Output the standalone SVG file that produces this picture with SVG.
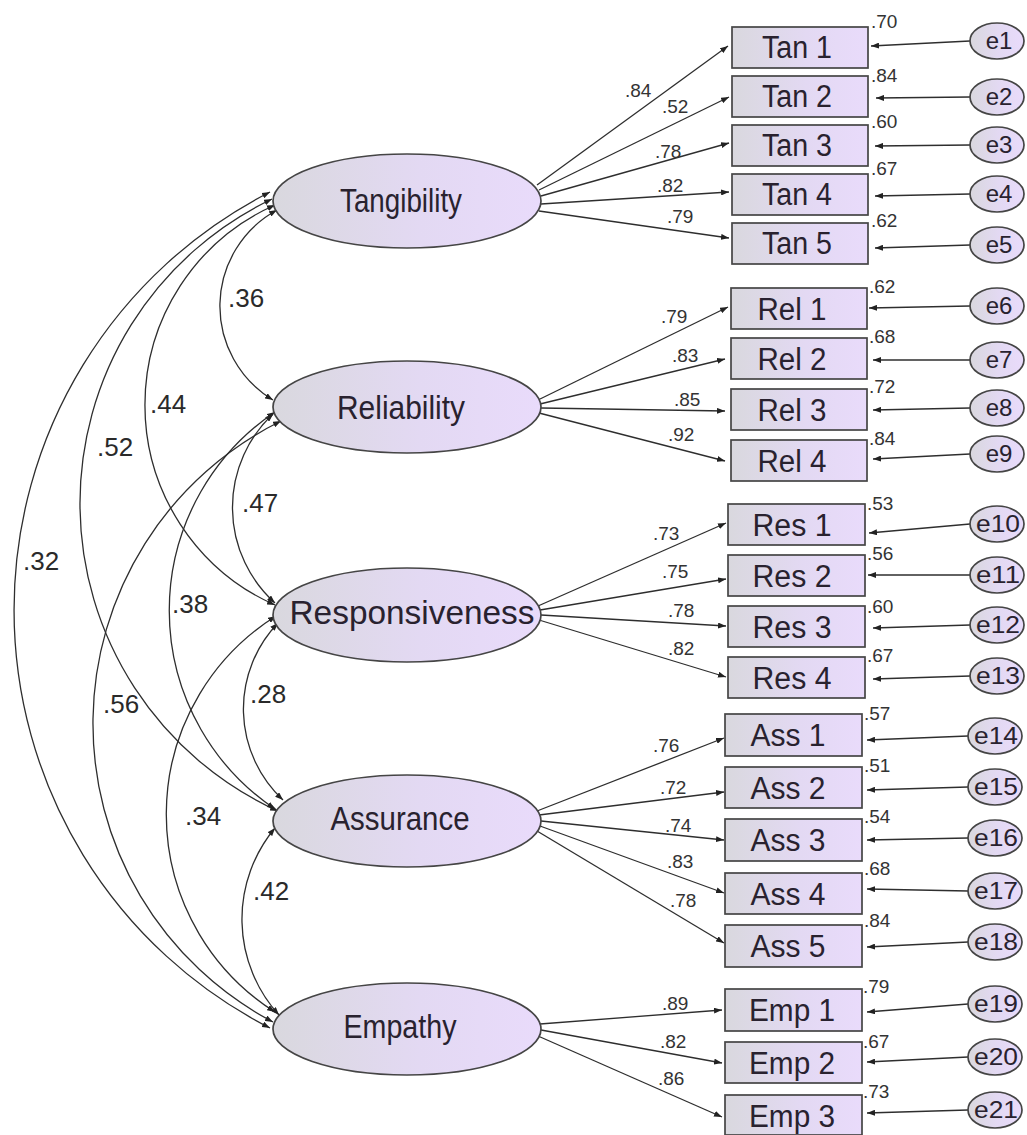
<svg xmlns="http://www.w3.org/2000/svg" width="1027" height="1135" viewBox="0 0 1027 1135">
  <defs>
    <linearGradient id="shade" x1="0" y1="0" x2="1" y2="0">
      <stop offset="0" stop-color="#d9d8de"/>
      <stop offset="0.55" stop-color="#e3d9f3"/>
      <stop offset="1" stop-color="#e9dbfb"/>
    </linearGradient>
    <marker id="head" viewBox="0 0 8 6" refX="8" refY="3" markerWidth="8" markerHeight="6" markerUnits="userSpaceOnUse" orient="auto-start-reverse">
      <path d="M0,0 L8,3 L0,6 z" fill="#222"/>
    </marker>
    <style>
      .shape { fill: url(#shade); stroke: #454545; stroke-width: 1.7; }
      .lbl { font-family: "Liberation Sans", Arial, sans-serif; fill: #29222f; }
      .latent { font-size: 33px; text-anchor: middle; }
      .item { font-size: 31px; text-anchor: middle; }
      .err { font-size: 24px; text-anchor: middle; }
      .num { font-size: 19px; fill: #333; }
      .cov { font-size: 26px; fill: #2a2a2a; }
      .link { fill: none; stroke: #2e2e2e; stroke-width: 1.3; marker-end: url(#head); }
      .arc { fill: none; stroke: #2e2e2e; stroke-width: 1.3; marker-start: url(#head); marker-end: url(#head); }
    </style>
  </defs>
  <rect width="1027" height="1135" fill="#ffffff"/>

  <!-- connectors: covariances, loadings, error paths -->
  <g id="connectors">
    <g id="covariances">
      <path class="arc" d="M277,210 A109.5,109.5 0 0 0 273,400"/>
      <path class="arc" d="M275,205 A218.8,218.8 0 0 0 275,605"/>
      <path class="arc" d="M272,199 A337.6,337.6 0 0 0 278,811"/>
      <path class="arc" d="M270,192 A469.3,469.3 0 0 0 270,1028"/>
      <path class="arc" d="M273,414 A128.3,128.3 0 0 0 275,603"/>
      <path class="arc" d="M275,412 A239.2,239.2 0 0 0 275,809"/>
      <path class="arc" d="M281,421 A337.4,337.4 0 0 0 273,1022"/>
      <path class="arc" d="M278,623 A124.3,124.3 0 0 0 283,800"/>
      <path class="arc" d="M276,616 A234.1,234.1 0 0 0 275,1012"/>
      <path class="arc" d="M275,828 A142.4,142.4 0 0 0 279,1015"/>
    </g>
    <g id="loadings">
      <line class="link" x1="537" y1="185" x2="728" y2="46"/>
      <line class="link" x1="539" y1="190" x2="729" y2="97"/>
      <line class="link" x1="541" y1="196" x2="729" y2="143"/>
      <line class="link" x1="541" y1="204" x2="729" y2="192"/>
      <line class="link" x1="539" y1="211" x2="729" y2="238"/>
      <line class="link" x1="538" y1="400" x2="728" y2="307"/>
      <line class="link" x1="540" y1="404" x2="725" y2="359"/>
      <line class="link" x1="541" y1="408" x2="725" y2="411"/>
      <line class="link" x1="539" y1="413" x2="725" y2="461"/>
      <line class="link" x1="538" y1="606" x2="726" y2="523"/>
      <line class="link" x1="540" y1="610" x2="726" y2="579"/>
      <line class="link" x1="541" y1="615" x2="726" y2="626"/>
      <line class="link" x1="539" y1="620" x2="726" y2="677"/>
      <line class="link" x1="537" y1="811" x2="724" y2="738"/>
      <line class="link" x1="539" y1="815" x2="724" y2="792"/>
      <line class="link" x1="541" y1="821" x2="724" y2="840"/>
      <line class="link" x1="540" y1="826" x2="724" y2="893"/>
      <line class="link" x1="537" y1="831" x2="724" y2="943"/>
      <line class="link" x1="540" y1="1024" x2="722" y2="1010"/>
      <line class="link" x1="541" y1="1030" x2="722" y2="1063"/>
      <line class="link" x1="538" y1="1036" x2="722" y2="1117"/>
    </g>
    <g id="error-paths">
      <line class="link" x1="970" y1="41" x2="871" y2="46"/>
      <line class="link" x1="970" y1="97" x2="876" y2="98"/>
      <line class="link" x1="970" y1="145" x2="875" y2="146"/>
      <line class="link" x1="970" y1="194" x2="875" y2="196"/>
      <line class="link" x1="970" y1="245" x2="875" y2="248"/>
      <line class="link" x1="970" y1="306" x2="869" y2="308"/>
      <line class="link" x1="970" y1="360" x2="873" y2="360"/>
      <line class="link" x1="970" y1="408" x2="873" y2="410"/>
      <line class="link" x1="970" y1="454" x2="873" y2="459"/>
      <line class="link" x1="970" y1="524" x2="869" y2="533"/>
      <line class="link" x1="970" y1="575" x2="868" y2="575"/>
      <line class="link" x1="970" y1="625" x2="873" y2="628"/>
      <line class="link" x1="970" y1="676" x2="873" y2="679"/>
      <line class="link" x1="968" y1="736" x2="867" y2="740"/>
      <line class="link" x1="968" y1="787" x2="867" y2="790"/>
      <line class="link" x1="968" y1="838" x2="867" y2="840"/>
      <line class="link" x1="968" y1="891" x2="867" y2="889"/>
      <line class="link" x1="968" y1="942" x2="867" y2="947"/>
      <line class="link" x1="968" y1="1004" x2="867" y2="1012"/>
      <line class="link" x1="968" y1="1057" x2="867" y2="1062"/>
      <line class="link" x1="968" y1="1110" x2="867" y2="1113"/>
    </g>
    <!-- covariance estimates -->
    <g id="cov-labels" class="lbl cov">
      <text x="228" y="307">.36</text>
      <text x="150" y="413">.44</text>
      <text x="97" y="456">.52</text>
      <text x="23" y="570">.32</text>
      <text x="242" y="512">.47</text>
      <text x="172" y="613">.38</text>
      <text x="250" y="703">.28</text>
      <text x="103" y="713">.56</text>
      <text x="185" y="825">.34</text>
      <text x="253" y="900">.42</text>
    </g>
    <!-- standardized loadings -->
    <g id="loading-labels" class="lbl num">
      <text x="625" y="97">.84</text>
      <text x="662" y="113">.52</text>
      <text x="655" y="158">.78</text>
      <text x="657" y="192">.82</text>
      <text x="667" y="223">.79</text>
      <text x="661" y="323">.79</text>
      <text x="672" y="362">.83</text>
      <text x="674" y="406">.85</text>
      <text x="668" y="441">.92</text>
      <text x="653" y="540">.73</text>
      <text x="662" y="578">.75</text>
      <text x="668" y="617">.78</text>
      <text x="668" y="655">.82</text>
      <text x="653" y="752">.76</text>
      <text x="660" y="794">.72</text>
      <text x="665" y="832">.74</text>
      <text x="667" y="868">.83</text>
      <text x="670" y="907">.78</text>
      <text x="662" y="1010">.89</text>
      <text x="660" y="1048">.82</text>
      <text x="658" y="1085">.86</text>
    </g>
    <!-- squared multiple correlations -->
    <g id="r2-labels" class="lbl num">
      <text x="871" y="28">.70</text>
      <text x="871" y="82">.84</text>
      <text x="871" y="128">.60</text>
      <text x="871" y="175">.67</text>
      <text x="871" y="227">.62</text>
      <text x="869" y="293">.62</text>
      <text x="869" y="343">.68</text>
      <text x="869" y="393">.72</text>
      <text x="869" y="445">.84</text>
      <text x="867" y="510">.53</text>
      <text x="867" y="560">.56</text>
      <text x="867" y="613">.60</text>
      <text x="867" y="662">.67</text>
      <text x="864" y="720">.57</text>
      <text x="864" y="772">.51</text>
      <text x="864" y="823">.54</text>
      <text x="864" y="875">.68</text>
      <text x="864" y="927">.84</text>
      <text x="863" y="993">.79</text>
      <text x="863" y="1048">.67</text>
      <text x="863" y="1098">.73</text>
    </g>
  </g>

  <!-- latent factors -->
  <g id="Tangibility">
    <ellipse class="shape" cx="407" cy="201" rx="134" ry="47"/>
    <text class="lbl latent" x="401" y="212" textLength="122" lengthAdjust="spacingAndGlyphs">Tangibility</text>
  </g>
  <g id="Reliability">
    <ellipse class="shape" cx="407" cy="407" rx="134" ry="46"/>
    <text class="lbl latent" x="401" y="419" textLength="128" lengthAdjust="spacingAndGlyphs">Reliability</text>
  </g>
  <g id="Responsiveness">
    <ellipse class="shape" cx="407" cy="615" rx="134" ry="47"/>
    <text class="lbl latent" x="412" y="624" textLength="245" lengthAdjust="spacingAndGlyphs">Responsiveness</text>
  </g>
  <g id="Assurance">
    <ellipse class="shape" cx="407" cy="821" rx="134" ry="46"/>
    <text class="lbl latent" x="400" y="830" textLength="139" lengthAdjust="spacingAndGlyphs">Assurance</text>
  </g>
  <g id="Empathy">
    <ellipse class="shape" cx="407" cy="1029" rx="134" ry="46"/>
    <text class="lbl latent" x="400" y="1038" textLength="113" lengthAdjust="spacingAndGlyphs">Empathy</text>
  </g>

  <!-- observed indicators -->
  <g id="Tan1"><rect class="shape" x="732" y="27" width="136" height="41"/><text class="lbl item" x="797" y="58" textLength="70" lengthAdjust="spacingAndGlyphs">Tan 1</text></g>
  <g id="Tan2"><rect class="shape" x="732" y="76" width="136" height="41"/><text class="lbl item" x="797" y="107" textLength="70" lengthAdjust="spacingAndGlyphs">Tan 2</text></g>
  <g id="Tan3"><rect class="shape" x="732" y="125" width="136" height="41"/><text class="lbl item" x="797" y="156" textLength="70" lengthAdjust="spacingAndGlyphs">Tan 3</text></g>
  <g id="Tan4"><rect class="shape" x="732" y="174" width="136" height="41"/><text class="lbl item" x="797" y="205" textLength="70" lengthAdjust="spacingAndGlyphs">Tan 4</text></g>
  <g id="Tan5"><rect class="shape" x="732" y="223" width="136" height="41"/><text class="lbl item" x="797" y="254" textLength="70" lengthAdjust="spacingAndGlyphs">Tan 5</text></g>

  <g id="Rel1"><rect class="shape" x="731" y="288" width="136" height="41"/><text class="lbl item" x="792" y="320" textLength="69" lengthAdjust="spacingAndGlyphs">Rel 1</text></g>
  <g id="Rel2"><rect class="shape" x="731" y="338" width="136" height="41"/><text class="lbl item" x="792" y="370" textLength="69" lengthAdjust="spacingAndGlyphs">Rel 2</text></g>
  <g id="Rel3"><rect class="shape" x="731" y="389" width="136" height="41"/><text class="lbl item" x="792" y="421" textLength="69" lengthAdjust="spacingAndGlyphs">Rel 3</text></g>
  <g id="Rel4"><rect class="shape" x="731" y="440" width="136" height="41"/><text class="lbl item" x="792" y="472" textLength="69" lengthAdjust="spacingAndGlyphs">Rel 4</text></g>

  <g id="Res1"><rect class="shape" x="728" y="504" width="137" height="41"/><text class="lbl item" x="792" y="536" textLength="79" lengthAdjust="spacingAndGlyphs">Res 1</text></g>
  <g id="Res2"><rect class="shape" x="728" y="555" width="137" height="41"/><text class="lbl item" x="792" y="587" textLength="79" lengthAdjust="spacingAndGlyphs">Res 2</text></g>
  <g id="Res3"><rect class="shape" x="728" y="606" width="137" height="41"/><text class="lbl item" x="792" y="638" textLength="79" lengthAdjust="spacingAndGlyphs">Res 3</text></g>
  <g id="Res4"><rect class="shape" x="728" y="657" width="137" height="41"/><text class="lbl item" x="792" y="689" textLength="79" lengthAdjust="spacingAndGlyphs">Res 4</text></g>

  <g id="Ass1"><rect class="shape" x="725" y="714" width="137" height="42"/><text class="lbl item" x="788" y="746" textLength="75" lengthAdjust="spacingAndGlyphs">Ass 1</text></g>
  <g id="Ass2"><rect class="shape" x="725" y="767" width="137" height="41"/><text class="lbl item" x="788" y="799" textLength="75" lengthAdjust="spacingAndGlyphs">Ass 2</text></g>
  <g id="Ass3"><rect class="shape" x="725" y="819" width="137" height="42"/><text class="lbl item" x="788" y="851" textLength="75" lengthAdjust="spacingAndGlyphs">Ass 3</text></g>
  <g id="Ass4"><rect class="shape" x="725" y="873" width="137" height="41"/><text class="lbl item" x="788" y="905" textLength="75" lengthAdjust="spacingAndGlyphs">Ass 4</text></g>
  <g id="Ass5"><rect class="shape" x="725" y="925" width="137" height="42"/><text class="lbl item" x="788" y="957" textLength="75" lengthAdjust="spacingAndGlyphs">Ass 5</text></g>

  <g id="Emp1"><rect class="shape" x="725" y="989" width="137" height="42"/><text class="lbl item" x="792" y="1021" textLength="86" lengthAdjust="spacingAndGlyphs">Emp 1</text></g>
  <g id="Emp2"><rect class="shape" x="725" y="1042" width="137" height="41"/><text class="lbl item" x="792" y="1074" textLength="86" lengthAdjust="spacingAndGlyphs">Emp 2</text></g>
  <g id="Emp3"><rect class="shape" x="725" y="1095" width="137" height="40"/><text class="lbl item" x="792" y="1127" textLength="86" lengthAdjust="spacingAndGlyphs">Emp 3</text></g>

  <!-- error terms -->
  <g id="e1"><ellipse class="shape" cx="997" cy="41" rx="27" ry="18"/><text class="lbl err" x="999" y="49">e1</text></g>
  <g id="e2"><ellipse class="shape" cx="997" cy="97" rx="27" ry="18"/><text class="lbl err" x="999" y="105">e2</text></g>
  <g id="e3"><ellipse class="shape" cx="997" cy="145" rx="27" ry="18"/><text class="lbl err" x="999" y="153">e3</text></g>
  <g id="e4"><ellipse class="shape" cx="997" cy="194" rx="27" ry="18"/><text class="lbl err" x="999" y="202">e4</text></g>
  <g id="e5"><ellipse class="shape" cx="997" cy="245" rx="27" ry="18"/><text class="lbl err" x="999" y="253">e5</text></g>
  <g id="e6"><ellipse class="shape" cx="997" cy="306" rx="27" ry="18"/><text class="lbl err" x="999" y="314">e6</text></g>
  <g id="e7"><ellipse class="shape" cx="997" cy="360" rx="27" ry="18"/><text class="lbl err" x="999" y="368">e7</text></g>
  <g id="e8"><ellipse class="shape" cx="997" cy="408" rx="27" ry="18"/><text class="lbl err" x="999" y="416">e8</text></g>
  <g id="e9"><ellipse class="shape" cx="997" cy="454" rx="27" ry="18"/><text class="lbl err" x="999" y="462">e9</text></g>
  <g id="e10"><ellipse class="shape" cx="997" cy="524" rx="27" ry="18"/><text class="lbl err" x="998" y="532" textLength="44" lengthAdjust="spacingAndGlyphs">e10</text></g>
  <g id="e11"><ellipse class="shape" cx="997" cy="575" rx="27" ry="18"/><text class="lbl err" x="998" y="583" textLength="44" lengthAdjust="spacingAndGlyphs">e11</text></g>
  <g id="e12"><ellipse class="shape" cx="997" cy="625" rx="27" ry="18"/><text class="lbl err" x="998" y="633" textLength="44" lengthAdjust="spacingAndGlyphs">e12</text></g>
  <g id="e13"><ellipse class="shape" cx="997" cy="676" rx="27" ry="18"/><text class="lbl err" x="998" y="684" textLength="44" lengthAdjust="spacingAndGlyphs">e13</text></g>
  <g id="e14"><ellipse class="shape" cx="995" cy="736" rx="27" ry="18"/><text class="lbl err" x="996" y="744" textLength="44" lengthAdjust="spacingAndGlyphs">e14</text></g>
  <g id="e15"><ellipse class="shape" cx="995" cy="787" rx="27" ry="18"/><text class="lbl err" x="996" y="795" textLength="44" lengthAdjust="spacingAndGlyphs">e15</text></g>
  <g id="e16"><ellipse class="shape" cx="995" cy="838" rx="27" ry="18"/><text class="lbl err" x="996" y="846" textLength="44" lengthAdjust="spacingAndGlyphs">e16</text></g>
  <g id="e17"><ellipse class="shape" cx="995" cy="891" rx="27" ry="18"/><text class="lbl err" x="996" y="899" textLength="44" lengthAdjust="spacingAndGlyphs">e17</text></g>
  <g id="e18"><ellipse class="shape" cx="995" cy="942" rx="27" ry="18"/><text class="lbl err" x="996" y="950" textLength="44" lengthAdjust="spacingAndGlyphs">e18</text></g>
  <g id="e19"><ellipse class="shape" cx="995" cy="1004" rx="27" ry="18"/><text class="lbl err" x="996" y="1012" textLength="44" lengthAdjust="spacingAndGlyphs">e19</text></g>
  <g id="e20"><ellipse class="shape" cx="995" cy="1057" rx="27" ry="18"/><text class="lbl err" x="996" y="1065" textLength="44" lengthAdjust="spacingAndGlyphs">e20</text></g>
  <g id="e21"><ellipse class="shape" cx="995" cy="1110" rx="27" ry="18"/><text class="lbl err" x="996" y="1118" textLength="44" lengthAdjust="spacingAndGlyphs">e21</text></g>
</svg>
